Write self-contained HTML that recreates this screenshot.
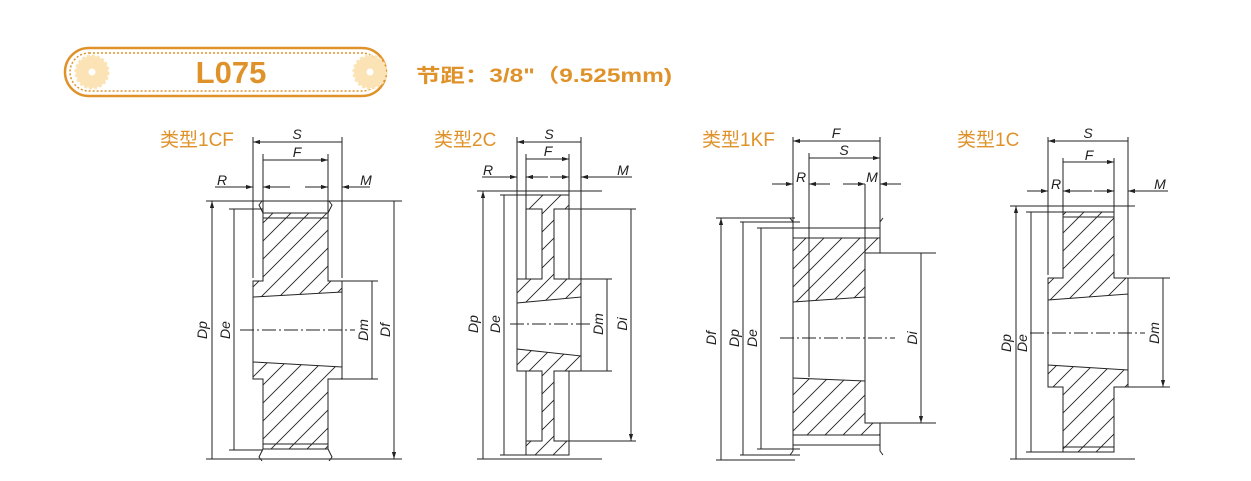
<!DOCTYPE html>
<html><head><meta charset="utf-8"><style>
html,body{margin:0;padding:0;background:#fff;width:1251px;height:481px;overflow:hidden}
svg{display:block}
.t{font-family:"Liberation Sans","Noto Sans CJK SC",sans-serif;fill:#e0922a;font-size:19px}
.l{font-family:"Liberation Sans",sans-serif;font-style:italic;font-size:14px;fill:#222}
</style></head><body>
<svg width="1251" height="481" viewBox="0 0 1251 481" xmlns="http://www.w3.org/2000/svg">
<defs>
<pattern id="h" patternUnits="userSpaceOnUse" width="18" height="18">
<path d="M-1,1 l2,-2 M0,18 l18,-18 M17,19 l2,-2" stroke="#222" stroke-width="0.9"/>
</pattern>
<marker id="a" viewBox="0 0 10 10" refX="10" refY="5" markerWidth="10" markerHeight="7" orient="auto-start-reverse" markerUnits="userSpaceOnUse"><path d="M0,2 L10,5 L0,8 z" fill="#222"/></marker>
</defs>

<!-- header -->
<rect x="65" y="48" width="321" height="48" rx="24" fill="#fff" stroke="#e0922a" stroke-width="2.5"/>
<rect x="70" y="53" width="311" height="38" rx="19" fill="none" stroke="#e0922a" stroke-width="1.5" stroke-dasharray="2 2"/>
<circle cx="92" cy="72" r="16" fill="#fbe3b5" stroke="#fbe3b5" stroke-width="3" stroke-dasharray="3 2"/><circle cx="92" cy="72" r="3.5" fill="#fff"/>
<circle cx="370" cy="72" r="16" fill="#fbe3b5" stroke="#fbe3b5" stroke-width="3" stroke-dasharray="3 2"/><circle cx="370" cy="72" r="3.5" fill="#fff"/>
<text x="231" y="83" text-anchor="middle" font-family="Liberation Sans,sans-serif" font-size="31" font-weight="bold" fill="#e0922a">L075</text>
<text x="416" y="82" class="t" font-size="21" font-weight="bold" textLength="256" lengthAdjust="spacingAndGlyphs">节距：3/8"（9.525mm)</text>

<g stroke="#222" stroke-width="1" fill="none">

<!-- ===== 1CF ===== -->
<path d="M263,213 H328 V281 H342 V379 H328 V449 H263 V379 H253 V281 H263 Z" fill="url(#h)"/>
<path d="M253,297 L342,292 L342,367 L253,362 Z" fill="#fff"/>
<path d="M263,213 H328 M263,218 H328 M263,444 H328 M263,449 H328" />
<path d="M263,213 l-4,-8 l3,-4 M328,213 l4,-8 l-3,-4 M263,449 l-4,8 l3,4 M328,449 l4,8 l-3,4"/>
<path d="M253,137 V278 M342,137 V278 M263,154 V213 M328,154 V213"/>
<path d="M206,201 H402 M206,459 H402 M229,209 H263 M229,450 H263 M342,281 H378 M342,379 H378"/>
<path d="M240,330 H355" stroke-dasharray="14 3 2 3"/>
<path d="M253,142 H342 M263,160 H328" marker-start="url(#a)" marker-end="url(#a)"/>
<path d="M215,187 H253" marker-end="url(#a)"/><path d="M290,187 H263" marker-end="url(#a)"/>
<path d="M305,187 H328" marker-end="url(#a)"/><path d="M370,187 H342" marker-end="url(#a)"/>
<path d="M212,201 V459 M234,209 V450 M372,281 V379 M394,201 V459" marker-start="url(#a)" marker-end="url(#a)"/>

<!-- ===== 2C ===== -->
<path d="M526,195 H569 V209 H554 V279 H581 V371 H554 V441 H569 V455 H526 V441 H542 V371 H517 V279 H542 V209 H526 Z" fill="url(#h)"/>
<path d="M517,303 L581,297 L581,356 L517,349 Z" fill="#fff"/>
<path d="M526,209 V279 M569,209 V279 M526,371 V441 M569,371 V441"/>
<path d="M517,137 V279 M581,137 V279 M526,154 V195 M569,154 V195"/>
<path d="M477,191 H602 M477,459 H602 M500,195 H526 M500,455 H526 M569,209 H636 M569,441 H636 M581,279 H612 M581,371 H612"/>
<path d="M510,324 H590" stroke-dasharray="14 3 2 3"/>
<path d="M517,142 H581 M526,159 H569" marker-start="url(#a)" marker-end="url(#a)"/>
<path d="M482,177 H517" marker-end="url(#a)"/><path d="M548,177 H526" marker-end="url(#a)"/>
<path d="M550,177 H569" marker-end="url(#a)"/><path d="M632,177 H581" marker-end="url(#a)"/>
<path d="M483,191 V459 M504,195 V455 M607,279 V371 M631,209 V441" marker-start="url(#a)" marker-end="url(#a)"/>

<!-- ===== 1KF ===== -->
<path d="M793,238 H880 V253 H865 V423 H880 V435 H793 Z" fill="url(#h)"/>
<path d="M793,302 L865,297 L865,381 L793,378 Z" fill="#fff"/>
<path d="M793,222 V238 M880,222 V238 M793,435 V451 M880,435 V451 M793,228 H880 M793,238 H880 M793,435 H880 M793,445 H880"/>
<path d="M793,222 l-3,-4 M880,222 l3,-4 M793,451 l-3,4 M880,451 l3,4"/>
<path d="M793,137 V222 M880,137 V222 M809,153 V377 M865,184 V253"/>
<path d="M716,218 H795 M740,222 H800 M757,228 H800 M716,460 H795 M740,455 H800 M757,449 H800 M880,253 H936 M880,423 H936"/>
<path d="M780,338 H895" stroke-dasharray="14 3 2 3"/>
<path d="M793,141 H880 M809,158 H880" marker-start="url(#a)" marker-end="url(#a)"/>
<path d="M772,184 H793" marker-end="url(#a)"/><path d="M830,184 H809" marker-end="url(#a)"/>
<path d="M843,184 H865" marker-end="url(#a)"/><path d="M901,184 H880" marker-end="url(#a)"/>
<path d="M721,218 V460 M743,222 V455 M761,228 V449 M921,253 V423" marker-start="url(#a)" marker-end="url(#a)"/>

<!-- ===== 1C ===== -->
<path d="M1063,212 H1114 V278 H1128 V387 H1114 V452 H1063 V387 H1048 V278 H1063 Z" fill="url(#h)"/>
<path d="M1048,300 L1128,294 L1128,370 L1048,365 Z" fill="#fff"/>
<path d="M1063,217 H1114 M1063,447 H1114"/>
<path d="M1048,137 V275 M1128,137 V275 M1063,158 V212 M1114,158 V212"/>
<path d="M1010,206 H1135 M1010,459 H1135 M1026,212 H1063 M1026,452 H1063 M1128,278 H1170 M1128,387 H1170"/>
<path d="M1030,333 H1145" stroke-dasharray="14 3 2 3"/>
<path d="M1048,141 H1128 M1063,162 H1114" marker-start="url(#a)" marker-end="url(#a)"/>
<path d="M1027,191 H1048" marker-end="url(#a)"/><path d="M1092,191 H1063" marker-end="url(#a)"/>
<path d="M1094,191 H1114" marker-end="url(#a)"/><path d="M1168,191 H1128" marker-end="url(#a)"/>
<path d="M1016,206 V459 M1031,212 V452 M1163,278 V387" marker-start="url(#a)" marker-end="url(#a)"/>
</g>

<!-- titles -->
<text x="160" y="146" class="t">类型1CF</text>
<text x="434" y="146" class="t">类型2C</text>
<text x="702" y="146" class="t">类型1KF</text>
<text x="957" y="146" class="t">类型1C</text>

<!-- labels -->
<text x="297" y="139" class="l" text-anchor="middle">S</text>
<text x="297" y="157" class="l" text-anchor="middle">F</text>
<text x="222" y="185" class="l" text-anchor="middle">R</text>
<text x="366" y="185" class="l" text-anchor="middle">M</text>
<text class="l" transform="translate(207,330) rotate(-90)" text-anchor="middle">Dp</text>
<text class="l" transform="translate(230,330) rotate(-90)" text-anchor="middle">De</text>
<text class="l" transform="translate(368,330) rotate(-90)" text-anchor="middle">Dm</text>
<text class="l" transform="translate(390,330) rotate(-90)" text-anchor="middle">Df</text>

<text x="549" y="139" class="l" text-anchor="middle">S</text>
<text x="548" y="156" class="l" text-anchor="middle">F</text>
<text x="488" y="175" class="l" text-anchor="middle">R</text>
<text x="623" y="175" class="l" text-anchor="middle">M</text>
<text class="l" transform="translate(478,324) rotate(-90)" text-anchor="middle">Dp</text>
<text class="l" transform="translate(500,324) rotate(-90)" text-anchor="middle">De</text>
<text class="l" transform="translate(603,324) rotate(-90)" text-anchor="middle">Dm</text>
<text class="l" transform="translate(627,324) rotate(-90)" text-anchor="middle">Di</text>

<text x="836" y="138" class="l" text-anchor="middle">F</text>
<text x="844" y="155" class="l" text-anchor="middle">S</text>
<text x="801" y="182" class="l" text-anchor="middle">R</text>
<text x="872" y="182" class="l" text-anchor="middle">M</text>
<text class="l" transform="translate(716,338) rotate(-90)" text-anchor="middle">Df</text>
<text class="l" transform="translate(739,338) rotate(-90)" text-anchor="middle">Dp</text>
<text class="l" transform="translate(757,338) rotate(-90)" text-anchor="middle">De</text>
<text class="l" transform="translate(917,338) rotate(-90)" text-anchor="middle">Di</text>

<text x="1088" y="138" class="l" text-anchor="middle">S</text>
<text x="1089" y="160" class="l" text-anchor="middle">F</text>
<text x="1056" y="189" class="l" text-anchor="middle">R</text>
<text x="1160" y="189" class="l" text-anchor="middle">M</text>
<text class="l" transform="translate(1011,343) rotate(-90)" text-anchor="middle">Dp</text>
<text class="l" transform="translate(1027,343) rotate(-90)" text-anchor="middle">De</text>
<text class="l" transform="translate(1159,333) rotate(-90)" text-anchor="middle">Dm</text>
</svg>
</body></html>
